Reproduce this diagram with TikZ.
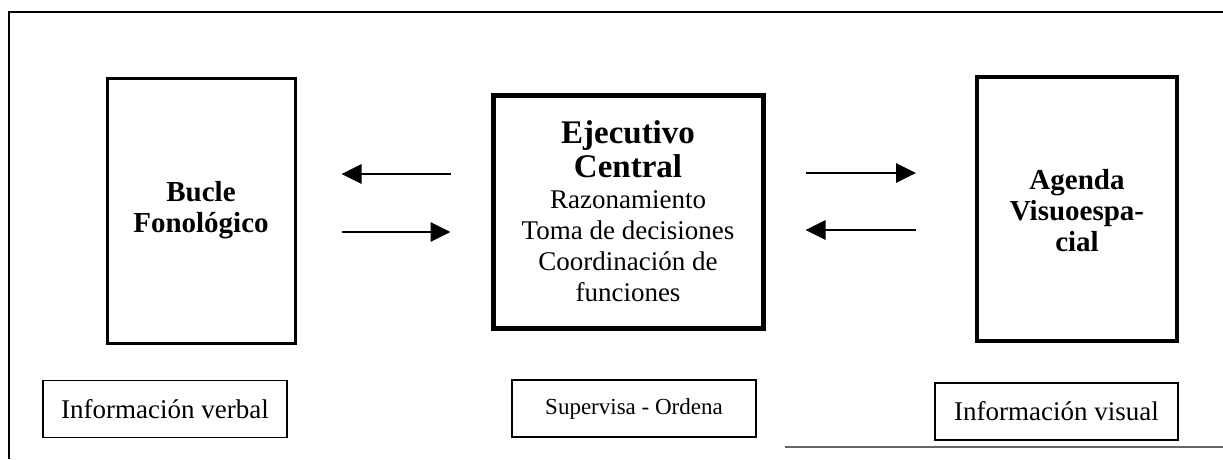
\documentclass[tikz,border=0pt]{standalone}
\usepackage{fontspec}
\setmainfont{Liberation Serif}
\usetikzlibrary{arrows.meta}
\tikzset{
  bigbox/.style={draw, line width=3pt, inner sep=0pt},
  labbox/.style={draw, line width=1.6pt, inner sep=0pt},
  ttl/.style={align=center, font=\fontsize{29}{31}\selectfont\bfseries},
  lab/.style={font=\fontsize{27}{32}\selectfont},
  arr/.style={line width=2.8pt, -{Triangle[length=20pt,width=19pt]}},
}
\newcommand{\bigbf}[1]{{\fontsize{33}{33}\selectfont\bfseries #1}}
\begin{document}
\begin{tikzpicture}[x=1pt,y=-1pt]
\useasboundingbox (0,0) rectangle (1223,459);
% outer frame (partly visible)
\draw[line width=2.6pt] (9,459) -- (9,12) -- (1223,12);
\draw[line width=1.6pt, black!60] (785,447) -- (1223,447);
% main boxes
\node[bigbox, minimum width=188pt, minimum height=265pt] (bucle) at (201,210.5) {};
\node[ttl] (bucletxt) at (bucle.center) {Bucle\\Fonológico};
\node[bigbox, line width=5pt, minimum width=270pt, minimum height=233pt, align=center,
  font=\fontsize{27}{31}\selectfont] (central) at (628,211.5)
  {\bigbf{Ejecutivo}\\[3pt]\bigbf{Central}\\Razonamiento\\Toma de decisiones\\Coordinación de\\funciones};
\node[bigbox, line width=4pt, minimum width=200pt, minimum height=264pt] (agenda) at (1077,209) {};
\node[ttl] (agendatxt) at ([yshift=-2pt]agenda.center) {Agenda\\Visuoespa-\\cial};
% label boxes
\node[labbox, minimum width=244pt, minimum height=57pt, lab] (verbal) at (165,409) {Información verbal};
\node[labbox, minimum width=244pt, minimum height=57pt, font=\fontsize{23}{26}\selectfont] (superv) at (634,408.5) {Supervisa - Ordena};
\node[labbox, minimum width=243pt, minimum height=57pt, lab] (visual) at (1056.5,411.5) {Información visual};
% arrows
\draw[arr, shorten <=40pt, shorten >=45pt] (central.west |- 0,174) -- (bucle.east |- 0,174);
\draw[arr, shorten <=45pt, shorten >=40pt] (bucle.east |- 0,232) -- (central.west |- 0,232);
\draw[arr, shorten <=40pt, shorten >=59pt] (central.east |- 0,173) -- (agenda.west |- 0,173);
\draw[arr, shorten <=59pt, shorten >=40pt] (agenda.west |- 0,230) -- (central.east |- 0,230);
\end{tikzpicture}
\end{document}
